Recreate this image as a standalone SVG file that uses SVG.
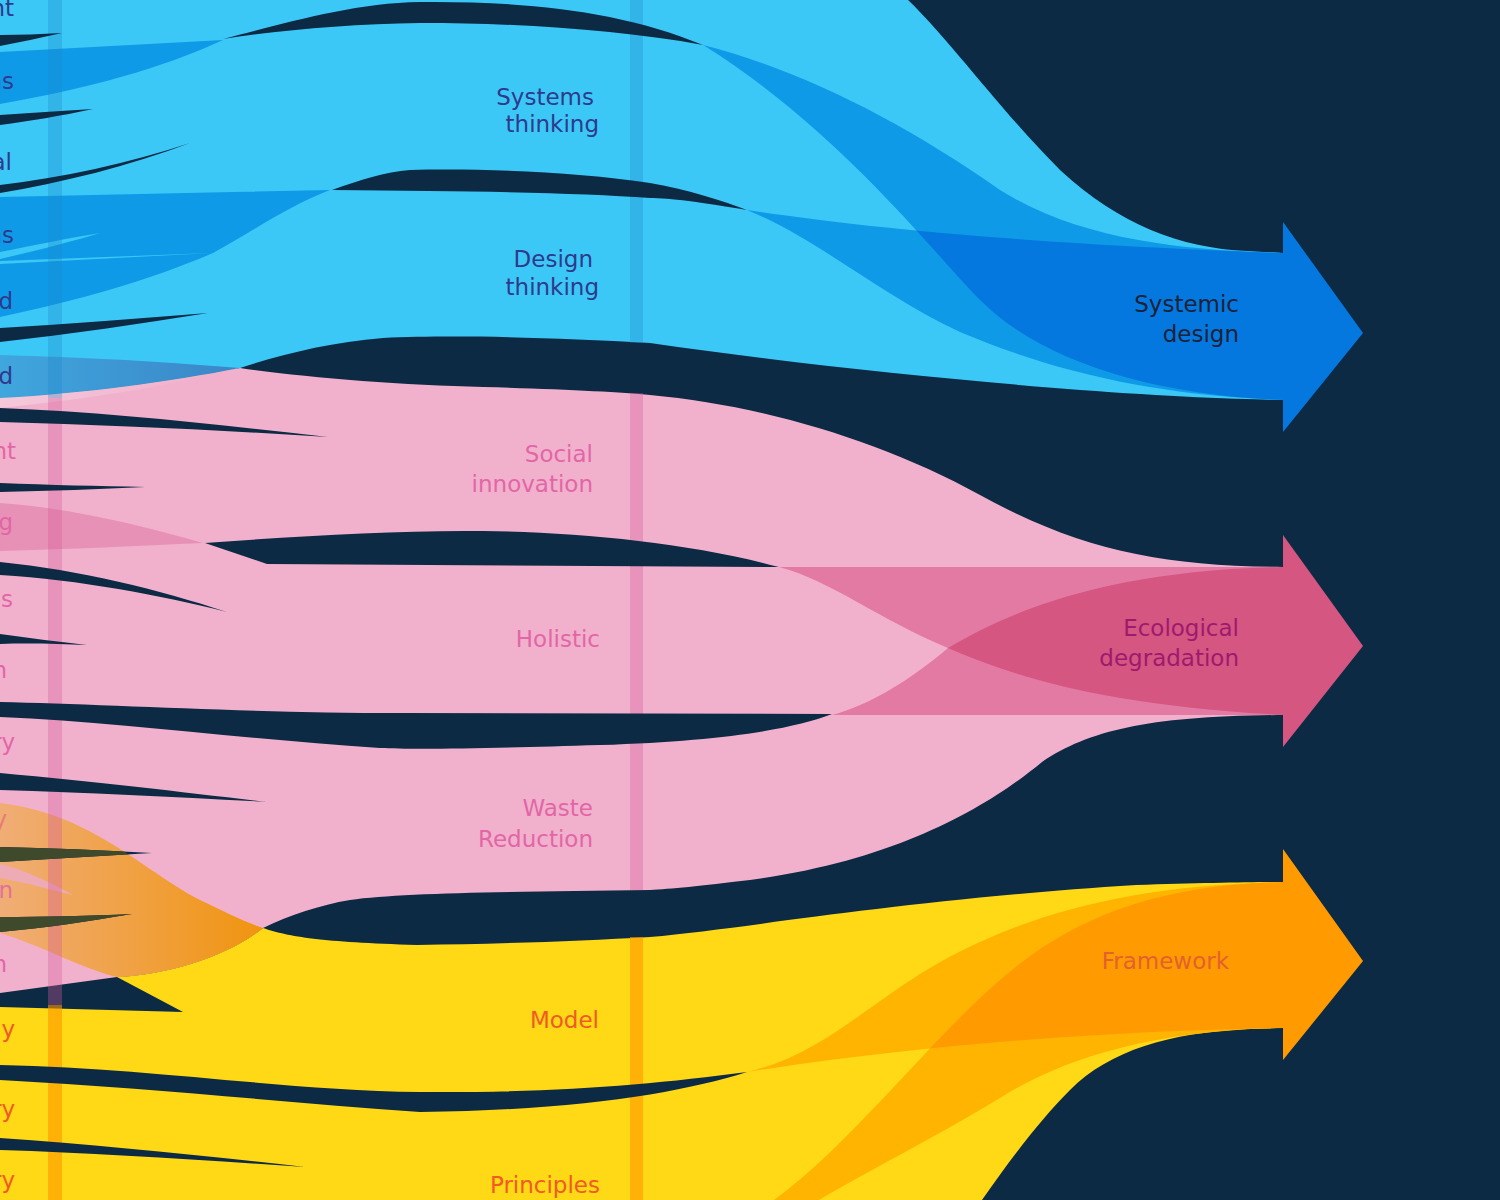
<svg xmlns="http://www.w3.org/2000/svg" width="1500" height="1200" viewBox="0 0 1500 1200">
<style>
.bg{fill:#0d2a45}
.lb{fill:#3cc8f6}.mb{fill:#0f9ae8}.db{fill:#0478de}
.lp{fill:#f1b1cd}.mp{fill:#e37aa3}.dp{fill:#d45681}
.ly{fill:#ffd816}.my{fill:#ffb401}.dy{fill:#ff9b00}
.gap{fill:#0d2a45}.olive{fill:#3f4a2c}
.barb{fill:#1e88c8;fill-opacity:.3}.barp{fill:#d55c9c;fill-opacity:.35}.bary{fill:#ff9800;fill-opacity:.6}
text{font-family:"DejaVu Sans","Liberation Sans",sans-serif;font-size:23px}
.tb{fill:#2e3a8c}.tp{fill:#e266a6}.ty{fill:#f15a24}
</style>
<defs>
<linearGradient id="gSteel" x1="0" y1="0" x2="240" y2="0" gradientUnits="userSpaceOnUse"><stop offset="0" stop-color="#40a6de"/><stop offset="1" stop-color="#3a86c7"/></linearGradient>
<linearGradient id="gWhite" x1="0" y1="0" x2="200" y2="0" gradientUnits="userSpaceOnUse"><stop offset="0" stop-color="#f4c9da"/><stop offset="1" stop-color="#f1b1cd"/></linearGradient>
<linearGradient id="gOrange" x1="0" y1="0" x2="263" y2="0" gradientUnits="userSpaceOnUse"><stop offset="0" stop-color="#f0ad76"/><stop offset="0.5" stop-color="#f0a143"/><stop offset="1" stop-color="#f0940f"/></linearGradient>
<clipPath id="cP"><path d="M703,45 C800,70 900,120 1000,190 C1080,240 1180,250 1283,253 L1283,400 C1150,395 1040,360 980,300 C935,255 840,130 703,45 Z"/></clipPath>
<clipPath id="cX"><path d="M779,567 L1283,567 L1283,715 C1100,705 1010,675 948,648 C880,620 830,580 779,567 Z"/></clipPath>
<clipPath id="cM1"><path d="M747,1072 C820,1055 860,1010 930,968 C1020,915 1130,885 1283,882 L1283,1028 C1150,1030 950,1040 747,1072 Z"/></clipPath>
<clipPath id="cOr"><path d="M0,803 C40,808 70,820 100,837 C130,853 170,885 200,900 C225,912 245,922 263,928 C230,955 170,975 117,977 C85,970 40,945 0,933 Z"/></clipPath>
</defs>
<rect class="bg" x="0" y="0" width="1500" height="1200"/>
<g id="connectors">
<path class="lb" d="M0,0 L908,0 C950,40 1000,110 1060,170 C1120,225 1180,248 1247,251 L1283,253 L1283,400 L1247,399 C1100,395 850,372 650,343 C550,337 450,335 383,338 C330,342 280,355 240,368 C170,382 80,394 0,398 Z"/>
<path class="lp" d="M0,398 C80,394 170,382 240,368 C300,377 400,385 483,387 C560,389 620,392 650,395 C760,405 880,440 980,495 C1080,550 1160,566 1283,567 L1283,715 C1150,716 1090,730 1042,762 C990,805 900,860 750,880 C700,886 670,889 650,890 C500,892 400,893 350,900 C320,905 290,915 263,928 C230,955 170,975 117,977 L0,993 Z"/>
<path class="ly" d="M0,1007 L183,1012 L117,977 C170,975 230,955 263,928 C290,937 320,942 417,945 C500,944 580,941 650,937 C750,928 900,900 1136,885 C1200,883 1250,882 1283,882 L1283,1028 L1247,1029 C1170,1033 1110,1050 1070,1090 C1040,1120 1010,1160 982,1200 L0,1200 Z"/>
<path fill="url(#gSteel)" d="M0,355 Q120,358 240,368 C170,382 80,394 0,398 Z"/>
<path fill="url(#gWhite)" d="M0,398 C80,394 170,382 240,368 C180,384 90,399 0,408 Z"/>
<path class="mb" d="M0,52 L223,40 C180,60 110,85 0,104 Z"/>
<path class="mb" d="M0,197 L330,190 C290,205 255,230 213,253 C150,280 80,300 0,317 Z"/>
<path class="lb" d="M0,252 C35,245 70,238 100,233 C70,242 35,251 0,259 Z"/>
<path class="lb" d="M0,261 L212,253 L0,264 Z"/>
<path class="mb" d="M703,45 C800,70 900,120 1000,190 C1080,240 1180,250 1283,253 L1283,400 C1150,395 1040,360 980,300 C935,255 840,130 703,45 Z"/>
<path class="mb" d="M747,210 C850,225 1000,243 1283,253 L1283,400 C1150,395 1050,370 960,332 C880,295 820,240 747,210 Z"/>
<path class="db" clip-path="url(#cP)" d="M747,210 C850,225 1000,243 1283,253 L1283,400 C1150,395 1050,370 960,332 C880,295 820,240 747,210 Z"/>
<path fill="#e891b6" d="M0,503 C70,508 140,525 203,543 C140,546 70,549 0,551 Z"/>
<path class="mp" d="M779,567 L1283,567 L1283,715 C1100,705 1010,675 948,648 C880,620 830,580 779,567 Z"/>
<path class="mp" d="M832,715 L1283,715 L1283,567 C1120,570 1020,605 948,648 C910,680 870,705 832,715 Z"/>
<path class="dp" clip-path="url(#cX)" d="M832,715 L1283,715 L1283,567 C1120,570 1020,605 948,648 C910,680 870,705 832,715 Z"/>
<path class="my" d="M747,1072 C820,1055 860,1010 930,968 C1020,915 1130,885 1283,882 L1283,1028 C1150,1030 950,1040 747,1072 Z"/>
<path class="my" d="M774,1200 C850,1145 930,1040 1000,980 C1080,910 1170,885 1283,882 L1283,1028 C1150,1030 1060,1060 1000,1098 C930,1140 870,1170 819,1200 Z"/>
<path class="dy" clip-path="url(#cM1)" d="M774,1200 C850,1145 930,1040 1000,980 C1080,910 1170,885 1283,882 L1283,1028 C1150,1030 1060,1060 1000,1098 C930,1140 870,1170 819,1200 Z"/>
<path fill="url(#gOrange)" d="M0,803 C40,808 70,820 100,837 C130,853 170,885 200,900 C225,912 245,922 263,928 C230,955 170,975 117,977 C85,970 40,945 0,933 Z"/>
<path fill="#eeabb6" d="M0,864 C25,870 50,882 73,895 C50,890 25,882 0,878 Z"/>
</g>
<g id="column-bars">
<rect class="barb" x="48" y="0" width="14" height="398"/>
<rect class="barp" x="48" y="398" width="14" height="607"/>
<rect class="bary" x="48" y="1005" width="14" height="195"/>
</g>
<g id="node-systems-thinking"><rect class="barb" x="630" y="0" width="13" height="190"/><text class="tb" text-anchor="end"><tspan x="594" y="105">Systems</tspan><tspan x="599" y="132">thinking</tspan></text></g>
<g id="node-design-thinking"><rect class="barb" x="630" y="190" width="13" height="153"/><text class="tb" text-anchor="end"><tspan x="593" y="267">Design</tspan><tspan x="599" y="295">thinking</tspan></text></g>
<g id="node-social-innovation"><rect class="barp" x="630" y="393" width="13" height="160"/><text class="tp" text-anchor="end"><tspan x="593" y="462">Social</tspan><tspan x="593" y="492">innovation</tspan></text></g>
<g id="node-holistic"><rect class="barp" x="630" y="553" width="13" height="175"/><text class="tp" text-anchor="end" x="600" y="647">Holistic</text></g>
<g id="node-waste-reduction"><rect class="barp" x="630" y="728" width="13" height="162"/><text class="tp" text-anchor="end"><tspan x="593" y="816">Waste</tspan><tspan x="593" y="847">Reduction</tspan></text></g>
<g id="node-model"><rect class="bary" x="630" y="937" width="13" height="153"/><text class="ty" text-anchor="end" x="599" y="1028">Model</text></g>
<g id="node-principles"><rect class="bary" x="630" y="1090" width="13" height="110"/><text class="ty" text-anchor="end" x="600" y="1193">Principles</text></g>
<g id="gaps">
<path class="gap" d="M0,35 C20,35 40,34 62,33 C40,38 20,42 0,46 Z"/>
<path class="gap" d="M0,115 C30,113 60,111 93,109 C60,116 30,121 0,125 Z"/>
<path class="gap" d="M0,185 C60,178 130,163 190,143 C130,166 60,183 0,193 Z"/>
<path class="gap" d="M0,328 C70,324 140,318 208,313 C140,324 70,334 0,342 Z"/>
<path class="gap" d="M223,39 C280,25 350,3 420,2 C520,1 620,10 703,45 C620,30 520,23 420,23 C350,24 280,30 223,39 Z"/>
<path class="gap" d="M332,190 C360,180 385,172 410,170 C480,168 580,172 650,183 C690,190 720,200 747,210 C700,202 670,198 650,198 C580,193 480,191 332,190 Z"/>
<path class="gap" d="M0,408 C110,412 220,425 328,437 C220,430 110,425 0,422 Z"/>
<path class="gap" d="M0,483 C50,485 100,486 145,487 C100,489 50,491 0,492 Z"/>
<path class="gap" d="M0,562 C80,570 160,590 227,612 C160,595 80,580 0,575 Z"/>
<path class="gap" d="M0,634 C30,638 60,642 87,645 C60,644 30,643 0,644 Z"/>
<path class="gap" d="M205,543 C300,536 400,530 483,531 C580,532 690,543 779,567 L267,564 Z"/>
<path class="gap" d="M0,702 C100,704 250,713 400,713 L832,714 C790,730 720,741 600,745 C500,748 420,750 380,748 C250,740 120,722 0,717 Z"/>
<path class="gap" d="M0,773 C100,782 190,793 267,802 C180,797 90,793 0,790 Z"/>
<path class="gap" d="M0,847 C50,848 100,850 152,853 C100,856 50,859 0,862 Z"/>
<path class="gap" d="M0,917 C45,917 90,916 132,914 C90,921 45,928 0,932 Z"/>
<g clip-path="url(#cOr)">
<path class="olive" d="M0,847 C50,848 100,850 152,853 C100,856 50,859 0,862 Z"/>
<path class="olive" d="M0,917 C45,917 90,916 132,914 C90,921 45,928 0,932 Z"/>
</g>
<path class="gap" d="M0,1065 C150,1068 280,1090 420,1092 C550,1093 650,1085 747,1072 C680,1093 580,1110 420,1112 C280,1102 150,1088 0,1080 Z"/>
<path class="gap" d="M0,1138 C100,1145 200,1155 305,1167 C200,1160 100,1153 0,1150 Z"/>
</g>
<g id="node-systemic-design"><path class="db" d="M1283,222 L1363,333 L1283,432 Z"/><text fill="#1c2238" text-anchor="end"><tspan x="1239" y="312">Systemic</tspan><tspan x="1239" y="342">design</tspan></text></g>
<g id="node-ecological-degradation"><path class="dp" d="M1283,535 L1363,646 L1283,747 Z"/><text fill="#9e1a6e" text-anchor="end"><tspan x="1239" y="636">Ecological</tspan><tspan x="1239" y="666">degradation</tspan></text></g>
<g id="node-framework"><path class="dy" d="M1283,849 L1363,961 L1283,1060 Z"/><text fill="#e4602e" text-anchor="end" x="1229" y="969">Framework</text></g>
<g id="left-column-labels" text-anchor="end">
<text class="tb" x="14" y="16">nt</text>
<text class="tb" x="14" y="89">ns</text>
<text class="tb" x="12" y="170">al</text>
<text class="tb" x="14" y="243">ns</text>
<text class="tb" x="13" y="309">d</text>
<text class="tb" x="13" y="384">d</text>
<text class="tp" x="16" y="459">nt</text>
<text class="tp" x="13" y="530">g</text>
<text class="tp" x="13" y="607">es</text>
<text class="tp" x="7" y="678">n</text>
<text class="tp" x="15" y="750">ry</text>
<text fill="#e87c74" x="7" y="827">y</text>
<text fill="#e3719a" x="13" y="898">n</text>
<text class="tp" x="7" y="972">n</text>
<text class="ty" x="15" y="1037">ay</text>
<text class="ty" x="15" y="1117">ry</text>
<text class="ty" x="15" y="1188">ry</text>
</g>
</svg>
